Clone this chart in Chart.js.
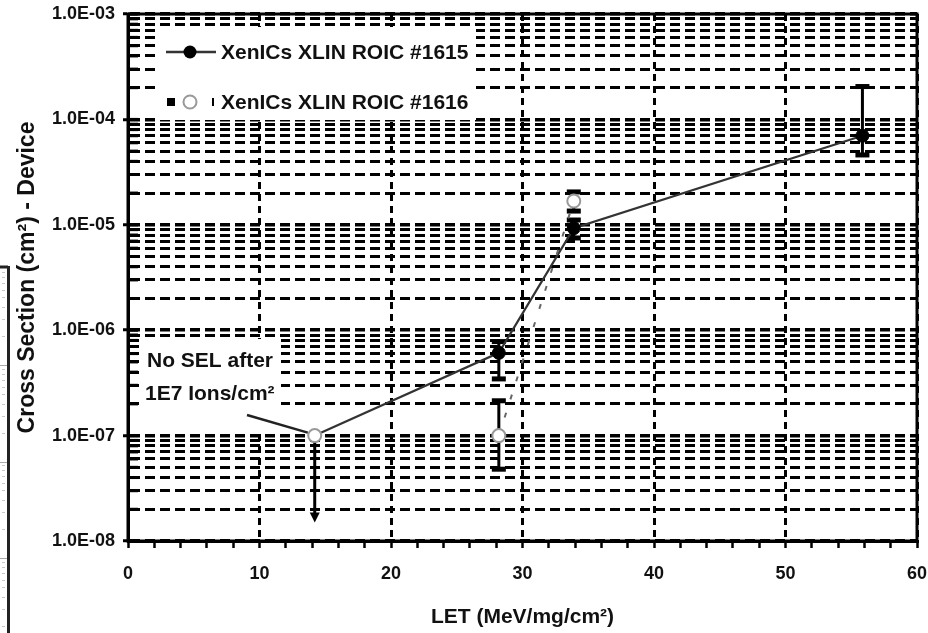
<!DOCTYPE html>
<html>
<head>
<meta charset="utf-8">
<title>SEL cross section vs LET</title>
<script src="https://cdn.jsdelivr.net/npm/chart.js@4.4.0/dist/chart.umd.min.js"></script>
<style>
  html, body { margin: 0; padding: 0; background: #fff; }
  #wrap { position: relative; width: 928px; height: 633px; }
</style>
</head>
<body>
<div id="wrap"><canvas id="selChart" width="928" height="633"></canvas></div>
<script>
// LET (MeV/mg/cm2) and device cross section (cm2), with error bar limits
const let1615 = [14.2, 28.2, 33.9, 55.85];
const xs1615 = [1.0e-7, 6.1e-7, 9.3e-6, 7.0e-5];
const errLo1615 = [null, 3.45e-7, 7.5e-6, 4.6e-5];
const errHi1615 = [null, 7.8e-7, 1.11e-5, 2.05e-4];

const let1616 = [14.2, 28.2, 33.9];
const xs1616 = [1.0e-7, 1.0e-7, 1.68e-5];
const errLo1616 = [null, 4.8e-8, 1.35e-5];
const errHi1616 = [null, 2.14e-7, 2.05e-5];

// no SEL seen at this LET: the point is an upper limit
const noSelLet = 14.2;
const noSelValue = 1.0e-7;
const noSelArrowTo = 1.5e-8;

const seriesLabels = ['XenICs XLIN ROIC #1615', 'XenICs XLIN ROIC #1616'];
const noSelText = ['No SEL after', '1E7 Ions/cm\u00B2'];

const yDecades = [1e-8, 1e-7, 1e-6, 1e-5, 1e-4, 1e-3];
const yTickLabels = ['1.0E-08', '1.0E-07', '1.0E-06', '1.0E-05', '1.0E-04', '1.0E-03'];
const xMin = 0, xMax = 60, xStep = 2, xLabelEvery = 10;

const FONT = '"Liberation Sans", Arial, sans-serif';
Chart.defaults.font.family = FONT;
Chart.defaults.font.weight = 'bold';
Chart.defaults.color = '#111';

const isDecade = v => yDecades.some(d => Math.abs(v / d - 1) < 1e-9);

// white boxes, frame, error bars, arrow, legend and notes
const decorations = {
  id: 'decorations',
  beforeDatasetsDraw(chart) {
    const {ctx, chartArea: a, scales: {x, y}} = chart;
    ctx.save();
    // legend and note backgrounds hide the grid
    ctx.fillStyle = '#fff';
    ctx.fillRect(156, 27, 320, 93);
    ctx.fillRect(139, 339, 142, 91);

    // inside tick marks on the y axis
    ctx.strokeStyle = '#000';
    ctx.lineWidth = 3;
    y.ticks.forEach(t => {
      const py = y.getPixelForValue(t.value);
      ctx.beginPath();
      ctx.moveTo(a.left, py);
      ctx.lineTo(a.left + 10, py);
      ctx.stroke();
    });

    // frame
    ctx.lineWidth = 3;
    ctx.strokeRect(a.left, a.top, a.right - a.left, a.bottom - a.top);

    // error bars
    const bars = (xs, lo, hi) => xs.forEach((v, i) => {
      if (lo[i] == null) return;
      const cx = x.getPixelForValue(v);
      const y1 = y.getPixelForValue(lo[i]);
      const y2 = y.getPixelForValue(hi[i]);
      ctx.fillStyle = '#000';
      ctx.lineWidth = 3;
      ctx.beginPath();
      ctx.moveTo(cx, y1);
      ctx.lineTo(cx, y2);
      ctx.stroke();
      ctx.fillRect(cx - 7, y1 - 2.5, 14, 5);
      ctx.fillRect(cx - 7, y2 - 2.5, 14, 5);
    });
    bars(let1615, errLo1615, errHi1615);
    bars(let1616, errLo1616, errHi1616);

    // upper-limit arrow
    const ax = x.getPixelForValue(noSelLet);
    const ay0 = y.getPixelForValue(noSelValue);
    const ay1 = y.getPixelForValue(noSelArrowTo);
    ctx.lineWidth = 3;
    ctx.beginPath();
    ctx.moveTo(ax, ay0);
    ctx.lineTo(ax, ay1 - 8);
    ctx.stroke();
    ctx.fillStyle = '#000';
    ctx.beginPath();
    ctx.moveTo(ax - 5, ay1 - 10);
    ctx.lineTo(ax + 5, ay1 - 10);
    ctx.lineTo(ax, ay1);
    ctx.closePath();
    ctx.fill();
    ctx.restore();
  },
  afterDatasetsDraw(chart) {
    const {ctx, scales: {x, y}} = chart;
    const ds = chart.data.datasets;
    ctx.save();
    ctx.font = 'bold 21px ' + FONT;
    ctx.textBaseline = 'middle';
    ctx.textAlign = 'left';
    ctx.fillStyle = '#111';

    // legend entry 1: solid line with filled dot
    ctx.strokeStyle = ds[0].borderColor;
    ctx.lineWidth = 2.5;
    ctx.beginPath();
    ctx.moveTo(166, 52);
    ctx.lineTo(216, 52);
    ctx.stroke();
    ctx.fillStyle = '#000';
    ctx.beginPath();
    ctx.arc(190, 52, 6.5, 0, Math.PI * 2);
    ctx.fill();
    ctx.fillStyle = '#111';
    ctx.fillText(ds[0].label, 221, 53);

    // legend entry 2: dashed line with open dot
    ctx.fillStyle = '#000';
    ctx.fillRect(167, 98, 8, 8);
    ctx.fillRect(212, 98, 2, 8);
    ctx.fillStyle = '#fff';
    ctx.strokeStyle = ds[1].pointBorderColor;
    ctx.lineWidth = 2;
    ctx.beginPath();
    ctx.arc(190, 102, 6.5, 0, Math.PI * 2);
    ctx.fill();
    ctx.stroke();
    ctx.fillStyle = '#111';
    ctx.fillText(ds[1].label, 221, 103);

    // note about the upper-limit point
    ctx.fillText(noSelText[0], 147, 361);
    ctx.fillText(noSelText[1], 145, 394);

    // leader from the note to the point
    const tx = x.getPixelForValue(noSelLet) - 7;
    const ty = y.getPixelForValue(noSelValue) - 3;
    ctx.strokeStyle = '#222';
    ctx.lineWidth = 2.5;
    ctx.beginPath();
    ctx.moveTo(247, 415);
    ctx.lineTo(tx, ty);
    ctx.stroke();

    // edge of the neighbouring figure on the left
    ctx.strokeStyle = '#222';
    ctx.lineWidth = 3;
    ctx.beginPath();
    ctx.moveTo(8.5, 266);
    ctx.lineTo(8.5, 633);
    ctx.moveTo(0, 267);
    ctx.lineTo(8, 267);
    ctx.stroke();
    ctx.strokeStyle = '#aaa';
    ctx.lineWidth = 1;
    [365, 462, 558].forEach(py => {
      ctx.beginPath();
      ctx.moveTo(0, py + 0.5);
      ctx.lineTo(7, py + 0.5);
      ctx.stroke();
    });
    ctx.fillStyle = '#c8c8c8';
    [365, 462, 558, 655].forEach(base => {
      for (let k = 2; k <= 9; k++) {
        const py = base - Math.log10(k) * 97;
        if (py > 268 && py < 633) ctx.fillRect(2, Math.round(py), 3, 1);
      }
    });
    ctx.restore();
  }
};

new Chart(document.getElementById('selChart').getContext('2d'), {
  type: 'line',
  data: {
    datasets: [
      {
        label: seriesLabels[0],
        data: let1615.map((v, i) => ({x: v, y: xs1615[i]})),
        borderColor: '#333',
        borderWidth: 2.2,
        pointRadius: ctx => ctx.dataIndex === 0 ? 0 : 6.5,
        pointBackgroundColor: '#000',
        pointBorderColor: '#000',
        pointBorderWidth: 1,
        tension: 0,
        order: 1
      },
      {
        label: seriesLabels[1],
        data: let1616.map((v, i) => ({x: v, y: xs1616[i]})),
        borderColor: '#666',
        borderWidth: 2,
        borderDash: [5, 14],
        segment: {
          borderColor: ctx => ctx.p0DataIndex === 0 ? 'rgba(0,0,0,0)' : undefined
        },
        pointRadius: 6.5,
        pointBackgroundColor: '#fff',
        pointBorderColor: '#999',
        pointBorderWidth: 2,
        tension: 0,
        order: 0
      }
    ]
  },
  options: {
    responsive: false,
    animation: false,
    devicePixelRatio: 1,
    layout: { padding: { left: 0, top: 14, right: 11, bottom: 0 } },
    plugins: {
      legend: { display: false },
      tooltip: { enabled: false }
    },
    scales: {
      x: {
        type: 'linear',
        min: xMin,
        max: xMax,
        afterFit: s => {
          s.height = 92;
          s.paddingLeft = 0;
          s.paddingRight = 0;
        },
        ticks: {
          stepSize: xStep,
          autoSkip: false,
          maxRotation: 0,
          padding: 15,
          font: { size: 18, weight: 'bold' },
          callback: v => v % xLabelEvery === 0 ? String(v) : ''
        },
        grid: {
          color: ctx => ctx.tick && ctx.tick.value % xLabelEvery === 0 ? '#000' : 'rgba(0,0,0,0)',
          lineWidth: 3,
          tickColor: '#000',
          tickWidth: 2.5,
          tickLength: 7
        },
        border: { color: '#000', width: 3, dash: [7, 5] },
        title: {
          display: true,
          text: 'LET (MeV/mg/cm\u00B2)',
          font: { size: 21, weight: 'bold' },
          padding: { top: 0, bottom: 3 }
        }
      },
      y: {
        type: 'logarithmic',
        min: 1e-8,
        max: 1e-3,
        afterFit: s => {
          s.width = 128;
          s.paddingTop = 0;
          s.paddingBottom = 0;
        },
        afterBuildTicks: s => {
          const t = [];
          yDecades.forEach(d => {
            for (let k = 1; k <= 9; k++) {
              if (d * k <= 1e-3 * (1 + 1e-9)) t.push({ value: d * k });
            }
          });
          s.ticks = t;
        },
        ticks: {
          autoSkip: false,
          padding: 8,
          font: { size: 18, weight: 'bold' },
          callback: v => {
            const i = yDecades.findIndex(d => Math.abs(v / d - 1) < 1e-9);
            return i < 0 ? '' : yTickLabels[i];
          }
        },
        grid: {
          color: '#000',
          lineWidth: ctx => ctx.tick && isDecade(ctx.tick.value) ? 3.5 : 3,
          tickColor: ctx => ctx.tick && isDecade(ctx.tick.value) ? '#000' : 'rgba(0,0,0,0)',
          tickWidth: 3,
          tickLength: 5
        },
        border: { color: '#000', width: 3, dash: [10, 5] },
        title: {
          display: true,
          text: 'Cross Section (cm\u00B2) - Device',
          font: { size: 23, weight: 'bold' },
          padding: { top: 14, bottom: 0 }
        }
      }
    }
  },
  plugins: [decorations]
});
</script>
</body>
</html>
